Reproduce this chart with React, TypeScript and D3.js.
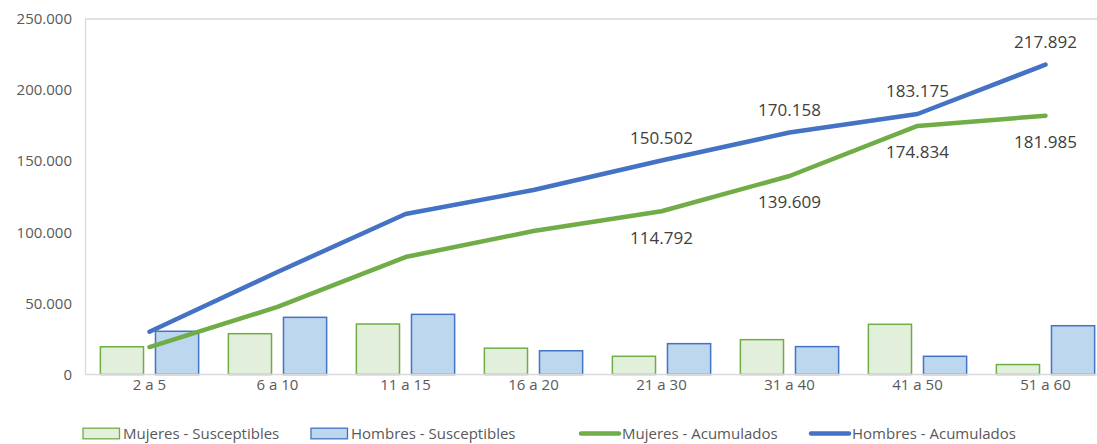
import React, { useEffect, useRef } from 'react';
import * as d3 from 'd3';

const categories = ['2 a 5', '6 a 10', '11 a 15', '16 a 20', '21 a 30', '31 a 40', '41 a 50', '51 a 60'];
const mujeresSusceptibles = [19500, 28700, 35500, 18500, 12800, 24500, 35300, 7000];
const hombresSusceptibles = [30400, 40200, 42300, 16700, 21700, 19600, 12800, 34300];
const mujeresAcumulados = [19300, 47500, 82600, 100900, 114792, 139609, 174834, 181985];
const hombresAcumulados = [30100, 72100, 112900, 129700, 150502, 170158, 183175, 217892];
// labels only shown from 21 a 30 on
const labelFrom = 4;
const yTicks = [0, 50000, 100000, 150000, 200000, 250000];

const GREEN = '#70ad47';
const GREEN_FILL = '#e2efda';
const BLUE = '#4472c4';
const BLUE_FILL = '#bdd7ee';
const TEXT = '#595959';
const FONT = "'Open Sans', sans-serif";

const fmt = d3.formatLocale({ decimal: ',', thousands: '.', grouping: [3], currency: ['', ''] }).format(',d');

const App = () => {
  const svgRef = useRef<SVGSVGElement>(null);

  useEffect(() => {
    const width = 1097;
    const height = 444;
    // plot area runs a little past the right edge of the picture
    const m = { left: 85.5, top: 19, right: 1109.5, bottom: 374.5 };

    const svg = d3.select(svgRef.current).attr('width', width).attr('height', height);
    svg.selectAll('*').remove();

    const x = d3.scaleBand().domain(categories).range([m.left, m.right]);
    const y = d3.scaleLinear().domain([0, 250000]).range([m.bottom, m.top]);

    // plot area border (top + left)
    svg.append('path')
      .attr('d', `M${m.left},${m.bottom}V${m.top}H${m.right}`)
      .attr('fill', 'none')
      .attr('stroke', '#d9d9d9')
      .attr('stroke-width', 1.3);

    // y tick labels
    svg.selectAll('.ytick')
      .data(yTicks)
      .enter()
      .append('text')
      .attr('x', 72)
      .attr('y', (d) => y(d))
      .attr('dy', '0.35em')
      .attr('text-anchor', 'end')
      .style('font-family', FONT)
      .style('font-size', '15px')
      .style('fill', TEXT)
      .text((d) => fmt(d));

    // bars
    const bw = x.bandwidth();
    const inner = d3.scaleBand().domain(['m', 'h']).range([0, bw]).paddingInner(0.217).paddingOuter(0.27);

    const drawBars = (vals: number[], key: string, fill: string, stroke: string) => {
      svg.selectAll(`.bar-${key}`)
        .data(vals)
        .enter()
        .append('rect')
        .attr('x', (d, i) => (x(categories[i]) as number) + (inner(key) as number))
        .attr('y', (d) => y(d))
        .attr('width', inner.bandwidth())
        .attr('height', (d) => y(0) - y(d))
        .attr('fill', fill)
        .attr('stroke', stroke)
        .attr('stroke-width', 1.5);
    };
    drawBars(mujeresSusceptibles, 'm', GREEN_FILL, GREEN);
    drawBars(hombresSusceptibles, 'h', BLUE_FILL, BLUE);

    // x axis line
    svg.append('line')
      .attr('x1', m.left)
      .attr('x2', m.right)
      .attr('y1', m.bottom)
      .attr('y2', m.bottom)
      .attr('stroke', '#d9d9d9')
      .attr('stroke-width', 1.5);

    // x labels
    svg.selectAll('.xtick')
      .data(categories)
      .enter()
      .append('text')
      .attr('x', (d) => (x(d) as number) + bw / 2)
      .attr('y', 390)
      .attr('text-anchor', 'middle')
      .style('font-family', FONT)
      .style('font-size', '15px')
      .style('fill', TEXT)
      .text((d) => d);

    // lines
    const line = d3.line<number>()
      .x((d, i) => (x(categories[i]) as number) + bw / 2)
      .y((d) => y(d));

    svg.append('path')
      .attr('d', line(mujeresAcumulados))
      .attr('fill', 'none')
      .attr('stroke', GREEN)
      .attr('stroke-width', 4.5)
      .attr('stroke-linecap', 'round')
      .attr('stroke-linejoin', 'round');

    svg.append('path')
      .attr('d', line(hombresAcumulados))
      .attr('fill', 'none')
      .attr('stroke', BLUE)
      .attr('stroke-width', 4.5)
      .attr('stroke-linecap', 'round')
      .attr('stroke-linejoin', 'round');

    // data labels
    const drawLabels = (vals: number[], dy: number) => {
      svg.append('g')
        .selectAll('text')
        .data(vals.map((v, i) => ({ v, i })).filter((d) => d.i >= labelFrom))
        .enter()
        .append('text')
        .attr('x', (d) => (x(categories[d.i]) as number) + bw / 2)
        .attr('y', (d) => y(d.v) + dy)
        .attr('dy', '0.35em')
        .attr('text-anchor', 'middle')
        .style('font-family', FONT)
        .style('font-size', '17px')
        .style('fill', '#404040')
        .text((d) => fmt(d.v));
    };
    drawLabels(hombresAcumulados, -22.5);
    drawLabels(mujeresAcumulados, 26.5);

    // legend
    const legend = [
      { name: 'Mujeres - Susceptibles', type: 'bar', fill: GREEN_FILL, stroke: GREEN, x: 83 },
      { name: 'Hombres - Susceptibles', type: 'bar', fill: BLUE_FILL, stroke: BLUE, x: 311 },
      { name: 'Mujeres - Acumulados', type: 'line', fill: GREEN, stroke: GREEN, x: 579 },
      { name: 'Hombres - Acumulados', type: 'line', fill: BLUE, stroke: BLUE, x: 809 },
    ];
    const lg = svg.append('g').selectAll('g').data(legend).enter().append('g')
      .attr('transform', (d) => `translate(${d.x},433.5)`);

    lg.filter((d) => d.type === 'bar')
      .append('rect')
      .attr('x', 0)
      .attr('y', -5.3)
      .attr('width', 36.5)
      .attr('height', 10.6)
      .attr('fill', (d) => d.fill)
      .attr('stroke', (d) => d.stroke)
      .attr('stroke-width', 1.3);

    lg.filter((d) => d.type === 'line')
      .append('line')
      .attr('x1', 2)
      .attr('x2', 40)
      .attr('y1', 0)
      .attr('y2', 0)
      .attr('stroke', (d) => d.stroke)
      .attr('stroke-width', 4.5)
      .attr('stroke-linecap', 'round');

    lg.append('text')
      .attr('x', (d) => (d.type === 'bar' ? 40 : 43))
      .attr('y', 0)
      .attr('dy', '0.35em')
      .style('font-family', FONT)
      .style('font-size', '15px')
      .style('fill', TEXT)
      .text((d) => d.name);
  }, []);

  return <svg ref={svgRef} style={{ position: 'absolute', left: 0, top: 0 }} />;
};

export default App;
